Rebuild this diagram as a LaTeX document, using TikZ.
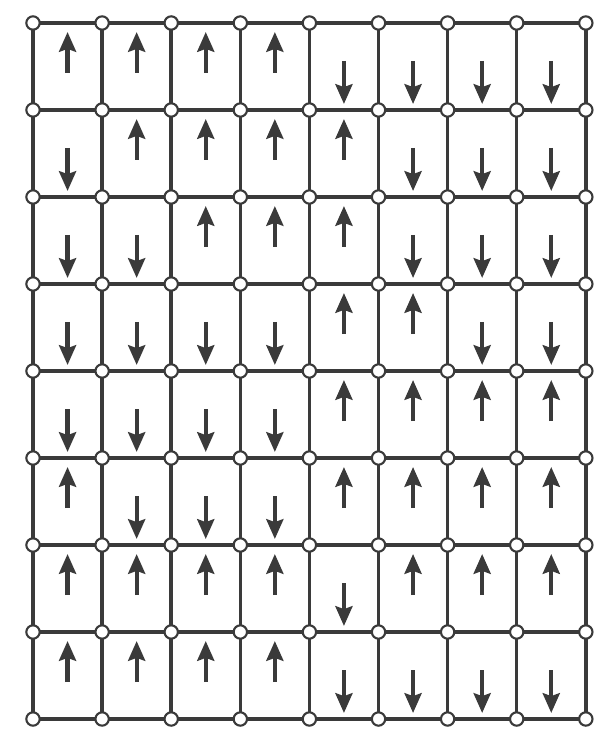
\documentclass[tikz,border=0pt]{standalone}
\usepackage{xcolor}
\usetikzlibrary{arrows.meta}
\definecolor{ink}{HTML}{3A3A3A}
\tikzset{
  site/.style={circle, draw=ink, fill=white, line width=1.5pt, inner sep=0pt, minimum size=9.5pt},
  bond/.style={draw=ink, line width=2.5pt, shorten <=-0.6pt, shorten >=-0.6pt},
  spin/.style={draw=ink, line width=3pt, -{Stealth[length=14pt,width=12pt,inset=2pt]}},
}
\begin{document}
\begin{tikzpicture}[x=0.025cm, y=-0.025cm]
  \useasboundingbox (0,0) rectangle (602,740);
  % lattice sites
  \foreach \i in {0,...,8}
    \foreach \j in {0,...,8}
      \node[site] (v-\i-\j) at ({33+69.1*\i},{23+87*\j}) {};
  % bonds between neighbouring sites
  \foreach \i [evaluate=\i as \n using int(\i+1)] in {0,...,7}
    \foreach \j in {0,...,8} {
      \draw[bond] (v-\i-\j) -- (v-\n-\j);
      \draw[bond] (v-\j-\i) -- (v-\j-\n);
    }
  % spins, one row of cells at a time
  \foreach \row [count=\j from 0] in {
      {u,u,u,u,d,d,d,d},
      {d,u,u,u,u,d,d,d},
      {d,d,u,u,u,d,d,d},
      {d,d,d,d,u,u,d,d},
      {d,d,d,d,u,u,u,u},
      {u,d,d,d,u,u,u,u},
      {u,u,u,u,d,u,u,u},
      {u,u,u,u,d,d,d,d}}
    \foreach \s [count=\i from 0] in \row {
      \pgfmathsetmacro{\cx}{33+69.1*(\i+0.5)}
      \pgfmathsetmacro{\cy}{23+87*\j}
      \if\s u
        \draw[spin] (\cx,\cy+50) -- (\cx,\cy+9);
      \else
        \draw[spin] (\cx,\cy+38) -- (\cx,\cy+81);
      \fi
    }
\end{tikzpicture}
\end{document}
